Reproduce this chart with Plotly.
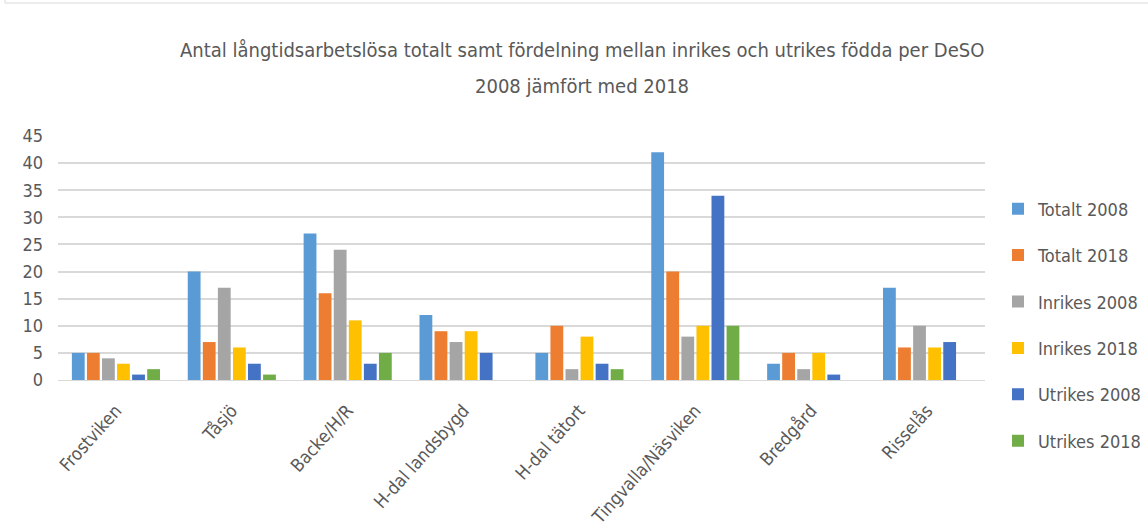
import plotly.graph_objects as go

categories = ["Frostviken", "Tåsjö", "Backe/H/R", "H-dal landsbygd", "H-dal tätort",
              "Tingvalla/Näsviken", "Bredgård", "Risselås"]
totalt_2008 = [5, 20, 27, 12, 5, 42, 3, 17]
totalt_2018 = [5, 7, 16, 9, 10, 20, 5, 6]
inrikes_2008 = [4, 17, 24, 7, 2, 8, 2, 10]
inrikes_2018 = [3, 6, 11, 9, 8, 10, 5, 6]
utrikes_2008 = [1, 3, 3, 5, 3, 34, 1, 7]
utrikes_2018 = [2, 1, 5, 0, 2, 10, 0, 0]

title_line1 = "Antal långtidsarbetslösa totalt samt fördelning mellan inrikes och utrikes födda per DeSO"
title_line2 = "2008 jämfört med 2018"

series = [
    ("Totalt 2008", totalt_2008, "#5B9BD5"),
    ("Totalt 2018", totalt_2018, "#ED7D31"),
    ("Inrikes 2008", inrikes_2008, "#A5A5A5"),
    ("Inrikes 2018", inrikes_2018, "#FFC000"),
    ("Utrikes 2008", utrikes_2008, "#4472C4"),
    ("Utrikes 2018", utrikes_2018, "#70AD47"),
]

FONT = "DejaVu Sans Condensed, Liberation Sans Narrow, Liberation Sans, sans-serif"
TXT = "#595959"

fig = go.Figure()
for i, (name, vals, color) in enumerate(series):
    fig.add_trace(go.Bar(name=name, x=categories, y=vals, marker_color=color,
                         marker_line_width=0, legendgroup=f"g{i}"))

W, H = 1148, 528
ml, mr, mt, mb = 58, 163, 136, 148
pw, ph = W - ml - mr, H - mt - mb

def px(x):
    return (x - ml) / pw

def py(y):
    return (H - mb - y) / ph

annotations = [
    dict(text=title_line1, xref="paper", yref="paper", x=px(582), y=py(50),
         xanchor="center", yanchor="middle", showarrow=False,
         font=dict(family=FONT, size=20, color=TXT)),
    dict(text=title_line2, xref="paper", yref="paper", x=px(582), y=py(86),
         xanchor="center", yanchor="middle", showarrow=False,
         font=dict(family=FONT, size=20, color=TXT)),
]

fig.update_layout(
    width=W, height=H,
    margin=dict(l=ml, r=mr, t=mt, b=mb, autoexpand=False),
    paper_bgcolor="white", plot_bgcolor="white",
    barmode="group", bargap=0.22, bargroupgap=0.15,
    font=dict(family=FONT, color=TXT),
    annotations=annotations,
    showlegend=True,
    legend=dict(x=px(998), xanchor="left", y=1 - 325 / 528, yanchor="middle", yref="container",
                font=dict(family=FONT, size=18, color=TXT), maxheight=1,
                tracegroupgap=20, itemwidth=30, bgcolor="rgba(0,0,0,0)"),
    xaxis=dict(showgrid=False, showline=True, linecolor="#D9D9D9", linewidth=1,
               tickangle=-48, tickfont=dict(family=FONT, size=18, color=TXT),
               ticks="", ticklabelstandoff=12),
    yaxis=dict(range=[0, 45], dtick=5, showgrid=True, gridcolor="#D9D9D9", gridwidth=2,
               zeroline=False, showline=False, ticks="", ticklabelstandoff=14,
               tickfont=dict(family=FONT, size=18, color=TXT)),
    shapes=[dict(type="rect", xref="paper", yref="paper",
                 x0=px(5), x1=px(1160), y0=py(-10), y1=py(3),
                 line=dict(color="#D9D9D9", width=1), fillcolor="rgba(0,0,0,0)", layer="below")],
)

fig.write_html("out.html", config={"displayModeBar": False},
               post_script="document.body.style.margin='0';")
